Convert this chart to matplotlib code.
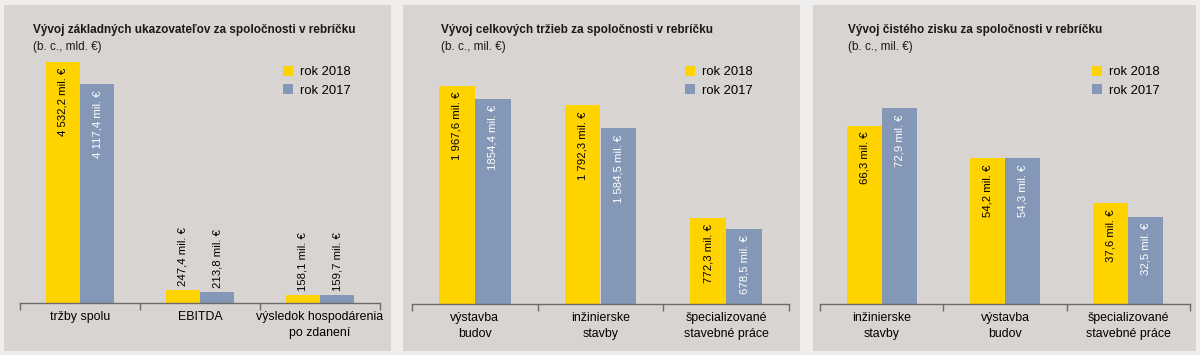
import matplotlib.pyplot as plt
from matplotlib import font_manager
from matplotlib.patches import Rectangle, Patch

names = {f.name for f in font_manager.fontManager.ttflist}
if 'Liberation Sans Narrow' in names:
    FONT = 'Liberation Sans Narrow'
    SHRINK = 1.0
else:
    FONT = 'Liberation Sans'
    SHRINK = 0.85
plt.rcParams['font.family'] = [FONT, 'DejaVu Sans']

YELLOW = '#FFD300'
BLUE = '#8497B6'
PANEL = '#D8D4D1'
OUTER = '#EFEEED'
AXIS = '#6B6B6B'

# data
titles = ['Vývoj základných ukazovateľov za spoločnosti v rebríčku',
          'Vývoj celkových tržieb za spoločnosti v rebríčku',
          'Vývoj čistého zisku za spoločnosti v rebríčku']
subtitles = ['(b. c., mld. €)', '(b. c., mil. €)', '(b. c., mil. €)']
categories = [['tržby spolu', 'EBITDA', 'výsledok hospodárenia\npo zdanení'],
              ['výstavba\nbudov', 'inžinierske\nstavby', 'špecializované\nstavebné práce'],
              ['inžinierske\nstavby', 'výstavba\nbudov', 'špecializované\nstavebné práce']]
values_2018 = [[4532.2, 247.4, 158.1],
               [1967.6, 1792.3, 772.3],
               [66.3, 54.2, 37.6]]
values_2017 = [[4117.4, 213.8, 159.7],
               [1854.4, 1584.5, 678.5],
               [72.9, 54.3, 32.5]]
labels_2018 = [['4 532,2 mil. €', '247,4 mil. €', '158,1 mil. €'],
               ['1 967,6 mil. €', '1 792,3 mil. €', '772,3 mil. €'],
               ['66,3 mil. €', '54,2 mil. €', '37,6 mil. €']]
labels_2017 = [['4 117,4 mil. €', '213,8 mil. €', '159,7 mil. €'],
               ['1854,4 mil. €', '1 584,5 mil. €', '678,5 mil. €'],
               ['72,9 mil. €', '54,3 mil. €', '32,5 mil. €']]

W, H = 1200, 355
fig = plt.figure(figsize=(12, 3.55), dpi=100, facecolor=OUTER)


def fx(x):
    return x / W


def fy(y):
    return 1 - y / H


# layout in pixels: panel box, axis left/right, baseline, px top of tallest bar
panels = [dict(box=(4, 5, 391, 351), left=20, right=380, base=303, peak=62, tx=33, lx=283),
          dict(box=(403, 5, 800, 351), left=412, right=789, base=304, peak=86, tx=441, lx=685),
          dict(box=(813, 5, 1196, 351), left=820, right=1190, base=304, peak=108, tx=848, lx=1092)]
AX_TOP = 50
bw = 0.285

for i, p in enumerate(panels):
    x0, y0, x1, y1 = p['box']
    fig.add_artist(Rectangle((fx(x0), fy(y1)), fx(x1 - x0), (y1 - y0) / H,
                             transform=fig.transFigure, facecolor=PANEL,
                             edgecolor='none', zorder=0))
    ax = fig.add_axes([fx(p['left']), fy(p['base']),
                       fx(p['right'] - p['left']), (p['base'] - AX_TOP) / H])
    ax.set_facecolor('none')
    v18, v17 = values_2018[i], values_2017[i]
    vmax = max(v18 + v17)
    ymax = vmax * (p['base'] - AX_TOP) / (p['base'] - p['peak'])
    ax.set_ylim(0, ymax)
    ax.set_xlim(-0.5, 2.5)
    xs = range(3)
    b18 = ax.bar([x - bw / 2 for x in xs], v18, bw, color=YELLOW, label='rok 2018')
    b17 = ax.bar([x + bw / 2 for x in xs], v17, bw, color=BLUE, label='rok 2017')

    # value labels: inside tall bars, above the short ones
    px_per = (p['base'] - AX_TOP) / ymax
    for bars, labs, incol in ((b18, labels_2018[i], 'black'), (b17, labels_2017[i], 'white')):
        for bar, lab in zip(bars, labs):
            h = bar.get_height()
            cx = bar.get_x() + bar.get_width() / 2
            if h * px_per > 40:
                ax.text(cx, h - 6 / px_per, lab, rotation=90, ha='center', va='top',
                        color=incol, fontsize=9.6 * SHRINK)
            else:
                ax.text(cx, h + 4 / px_per, lab, rotation=90, ha='center', va='bottom',
                        color='black', fontsize=9.6 * SHRINK)

    for s in ('top', 'left', 'right'):
        ax.spines[s].set_visible(False)
    ax.spines['bottom'].set_color(AXIS)
    ax.spines['bottom'].set_linewidth(1)
    ax.set_yticks([])
    ax.set_xticks([-0.5, 0.5, 1.5, 2.5], minor=True)
    ax.tick_params(axis='x', which='minor', length=5, width=1, color=AXIS, direction='out')
    ax.set_xticks(list(xs))
    ax.set_xticklabels(categories[i], fontsize=10.5 * SHRINK, linespacing=1.4)
    ax.tick_params(axis='x', which='major', length=0, pad=6)

    fig.text(fx(p['tx']), fy(30), titles[i], fontsize=10 * SHRINK, fontweight='bold',
             ha='left', va='center', color='#1a1a1a')
    fig.text(fx(p['tx']), fy(47), subtitles[i], fontsize=10 * SHRINK,
             ha='left', va='center', color='#1a1a1a')

    handles = [Patch(facecolor=YELLOW), Patch(facecolor=BLUE)]
    fig.legend(handles, ['rok 2018', 'rok 2017'], loc='upper left',
               bbox_to_anchor=(fx(p['lx']), fy(66)), frameon=False,
               fontsize=11 * SHRINK, handlelength=0.8, handleheight=0.8,
               handletextpad=0.5, labelspacing=0.45, borderpad=0, borderaxespad=0)

fig.savefig('out.png', dpi=100, facecolor=OUTER)
